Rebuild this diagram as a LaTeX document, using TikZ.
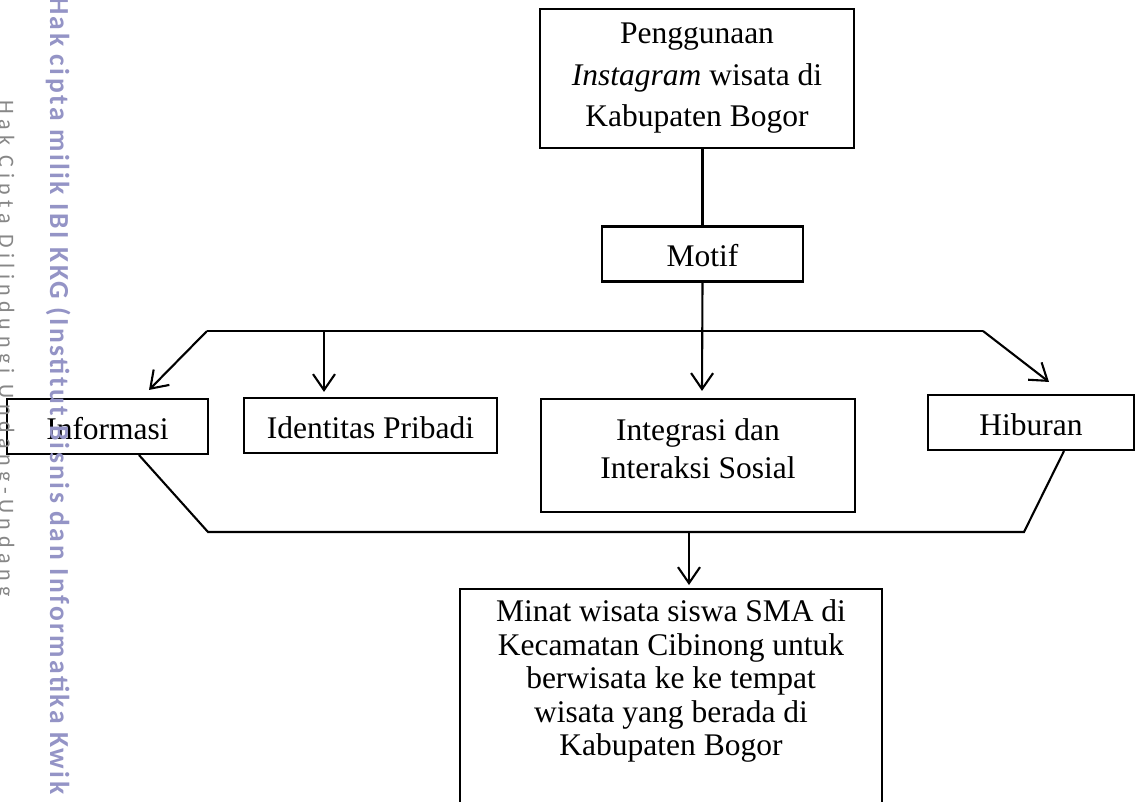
\documentclass[tikz,border=0pt]{standalone}
\usepackage{fontspec}
\setmainfont{Liberation Serif}
\newfontfamily\wmboldfont[LetterSpace=9]{Carlito}
\newfontfamily\wmthinfont[LetterSpace=25]{Carlito}
\usetikzlibrary{arrows.meta}
\definecolor{wmungu}{RGB}{148,148,198}
\definecolor{wmabu}{RGB}{135,135,135}

\begin{document}
\begin{tikzpicture}[x=1pt,y=-1pt,
  every node/.style={font=\fontsize{31.5}{41.5}\selectfont},
  kotak/.style={draw,line width=2.1pt,inner sep=0pt,align=center},
  satu/.style={kotak,text height=26pt,text depth=0pt,minimum height=55pt},
  garis/.style={line width=2.1pt},
  panah/.style={garis,-{Straight Barb[length=16pt,width=22pt]}}]
\fill[white] (0,0) rectangle (1136,802);
\useasboundingbox (0,0) rectangle (1136,802);
\clip (0,0) rectangle (1136,802);

\node[kotak,minimum width=314pt,minimum height=139pt] (guna) at (697,78.5) {Penggunaan\\\textit{Instagram} wisata di\\Kabupaten Bogor};
\node[satu,minimum width=201pt] (motif) at (702.5,254) {Motif};
\node[satu,minimum width=201pt] (info) at (107.5,426.5) {Informasi};
\node[satu,minimum width=253pt] (ident) at (370.5,425.5) {Identitas Pribadi};
\node[kotak,minimum width=314pt,minimum height=113pt,text depth=14pt,font=\fontsize{31.5}{38}\selectfont] (integ) at (698,455.5) {Integrasi dan\\Interaksi Sosial};
\node[satu,minimum width=206pt] (hibur) at (1031,422.5) {Hiburan};
\node[kotak,anchor=north,minimum width=422pt,inner ysep=11pt,text depth=260pt,font=\fontsize{31.5}{33.4}\selectfont] (minat) at (671,588) {Minat wisata siswa SMA di\\Kecamatan Cibinong untuk\\berwisata ke ke tempat\\wisata yang berada di\\Kabupaten Bogor};

\coordinate (kiriatas) at (207,331);
\coordinate (kananatas) at (983,331);
\coordinate (kiribawah) at (208,532);
\coordinate (kananbawah) at (1024,532);
\coordinate (tinfo) at ([xshift=41.5pt,yshift=8pt]info.north);
\coordinate (tident) at ([xshift=-46.5pt,yshift=5pt]ident.north);
\coordinate (tinteg) at ([xshift=4pt,yshift=7pt]integ.north);
\coordinate (thibur) at ([xshift=18pt,yshift=12pt]hibur.north);
\coordinate (tminat) at ([xshift=18pt,yshift=3pt]minat.north);

\draw[garis] (motif.north |- guna.south) -- (motif.north);
\draw[garis] (kiriatas) -- (kananatas);
\draw[panah] (kiriatas) -- (tinfo);
\draw[panah] (kananatas) -- (thibur);
\draw[panah] (tident |- kiriatas) -- (tident);
\draw[panah] (motif.south) -- (tinteg);
\draw[garis] ([xshift=31.5pt]info.south) -- (kiribawah) -- (kananbawah) -- ([xshift=33pt]hibur.south);
\draw[panah] (tminat |- kiribawah) -- (tminat);

\node[rotate=-90,anchor=base west,inner sep=0pt,text=wmungu,font=\wmboldfont\bfseries\fontsize{27.5}{30}\selectfont] (cipta) at (50,-3) {Hak cipta milik IBI KKG (Institut Bisnis dan Informatika Kwik};
\node[rotate=-90,anchor=base west,inner sep=0pt,text=wmabu,font=\wmthinfont\fontsize{22}{25}\selectfont] (lindung) at (-1,100) {Hak Cipta Dilindungi Undang-Undang};
\end{tikzpicture}
\end{document}
